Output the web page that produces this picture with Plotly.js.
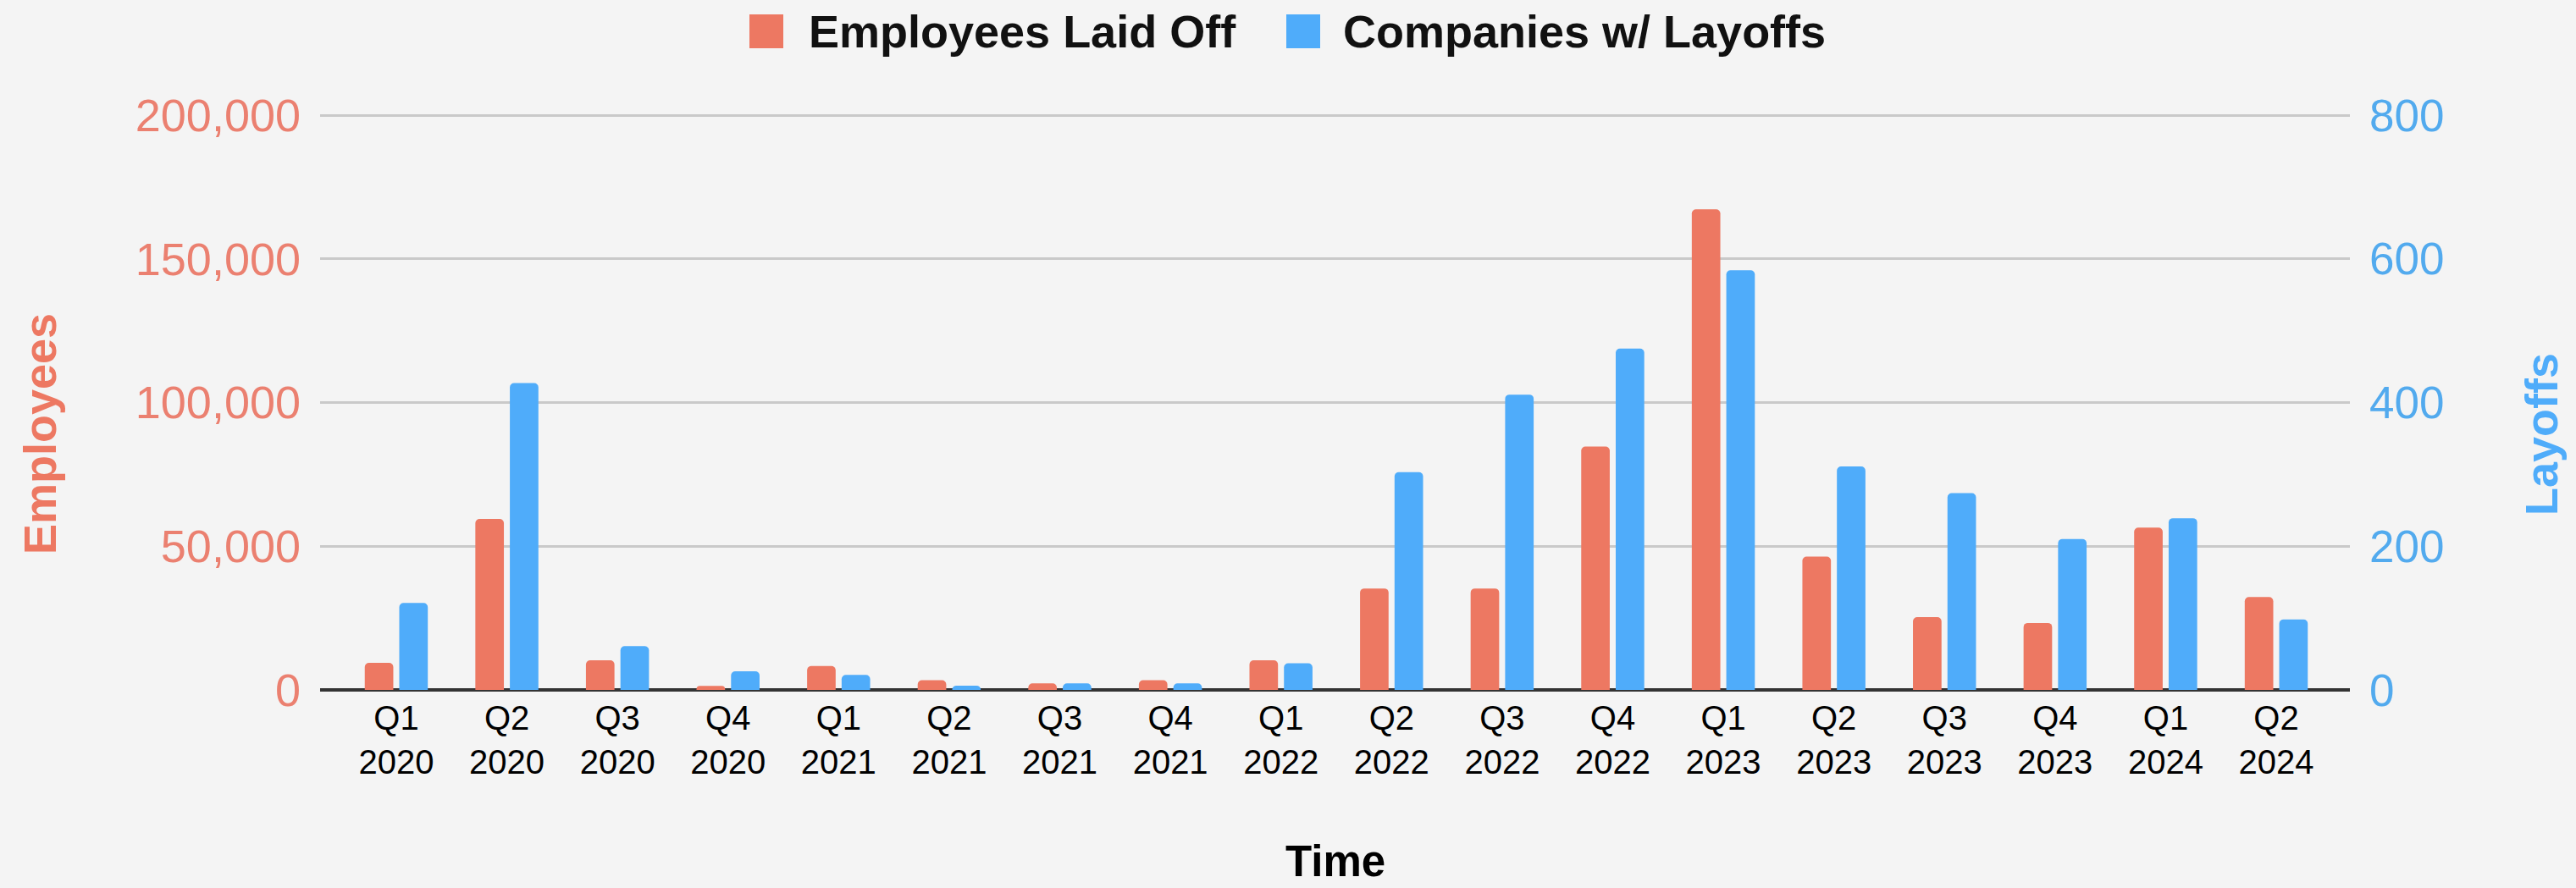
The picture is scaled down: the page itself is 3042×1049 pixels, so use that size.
<!DOCTYPE html>
<html>
<head>
<meta charset="utf-8">
<script src="https://cdn.plot.ly/plotly-3.0.1.min.js"></script>
<style>
  html, body { margin: 0; padding: 0; background: #f4f4f4; }
  #chart { width: 3042px; height: 1049px; }
</style>
</head>
<body>
<div id="chart"></div>
<script>
// ---- Data ----
const quarters = ["Q1 2020","Q2 2020","Q3 2020","Q4 2020","Q1 2021","Q2 2021","Q3 2021","Q4 2021","Q1 2022","Q2 2022","Q3 2022","Q4 2022","Q1 2023","Q2 2023","Q3 2023","Q4 2023","Q1 2024","Q2 2024"];
const employeesLaidOff = [9400, 59500, 10300, 1400, 8300, 3400, 2300, 3400, 10300, 35300, 35300, 84700, 167200, 46400, 25300, 23300, 56500, 32300];
const companiesWithLayoffs = [121, 427, 61, 26, 21, 6, 9, 9, 37, 303, 411, 475, 584, 311, 274, 210, 239, 98];
const leftTicks = [0, 50000, 100000, 150000, 200000];
const rightTicks = [0, 200, 400, 600, 800];

// ---- Styles ----
const RED = "#ED7862";
const BLUE = "#4FACFA";
const RED_TXT = "#EB8070";
const BLUE_TXT = "#52AAEE";
const FONT = "Liberation Sans, Arial, Helvetica, sans-serif";

const tickText = quarters.map(q => q.replace(" ", "<br>"));

const traces = [
  {
    type: "bar", name: "Employees Laid Off",
    x: quarters, y: employeesLaidOff, yaxis: "y",
    marker: { color: RED, cornerradius: 5 },
    width: 0.258, offset: -0.285,
    hoverinfo: "x+y", showlegend: false
  },
  {
    type: "bar", name: "Companies w/ Layoffs",
    x: quarters, y: companiesWithLayoffs, yaxis: "y2",
    marker: { color: BLUE, cornerradius: 5 },
    width: 0.258, offset: 0.027,
    hoverinfo: "x+y", showlegend: false
  }
];

// plot area in pixels (reference): x 378..2775, y (200k/800 line) 136 .. (0) 815
const L = 378, R = 2775, T = 136, B = 815;
const EXTRA = 4; // small headroom so the top gridline is drawn
const TOP = T - EXTRA;
const px = v => (v - L) / (R - L);
const py = v => (B - v) / (B - TOP);
const leftMax = 200000 * (B - TOP) / (B - T);
const rightMax = 800 * (B - TOP) / (B - T);

const layout = {
  width: 3042, height: 1049,
  margin: { l: L, r: 3042 - R, t: TOP, b: 1049 - B, pad: 0 },
  paper_bgcolor: "#f4f4f4",
  plot_bgcolor: "#f4f4f4",
  font: { family: FONT, size: 40, color: "#000" },
  barmode: "overlay",
  showlegend: false,
  xaxis: {
    type: "category",
    range: [-0.689, 17.666],
    tickmode: "array", tickvals: quarters, ticktext: tickText,
    tickfont: { family: FONT, size: 40, color: "#000" },
    ticks: "", showgrid: false, zeroline: false,
    showline: false, ticklabelstandoff: 6,
    fixedrange: true
  },
  yaxis: {
    range: [0, leftMax],
    tickmode: "array", tickvals: leftTicks,
    tickformat: ",d",
    tickfont: { family: FONT, size: 54, color: RED_TXT },
    showgrid: true, gridcolor: "#c9c9c9", gridwidth: 3,
    zeroline: true, zerolinecolor: "#333333", zerolinewidth: 4,
    ticks: "", ticklabelstandoff: 22, showline: false,
    fixedrange: true
  },
  yaxis2: {
    overlaying: "y", side: "right",
    range: [0, rightMax],
    tickmode: "array", tickvals: rightTicks,
    tickfont: { family: FONT, size: 53, color: BLUE_TXT },
    showgrid: false, zeroline: false, ticks: "", ticklabelstandoff: 22,
    showline: false, fixedrange: true
  },
  shapes: [
    { type: "rect", xref: "paper", yref: "paper",
      x0: px(885), x1: px(925), y0: py(57), y1: py(17),
      fillcolor: RED, line: { width: 0 } },
    { type: "rect", xref: "paper", yref: "paper",
      x0: px(1519), x1: px(1559), y0: py(57), y1: py(17),
      fillcolor: BLUE, line: { width: 0 } }
  ],
  annotations: [
    { text: "<b>Employees Laid Off</b>", xref: "paper", yref: "paper",
      x: px(953), y: py(37), xanchor: "left", yanchor: "middle", showarrow: false,
      font: { family: FONT, size: 54, color: "#111" } },
    { text: "<b>Companies w/ Layoffs</b>", xref: "paper", yref: "paper",
      x: px(1584), y: py(37), xanchor: "left", yanchor: "middle", showarrow: false,
      font: { family: FONT, size: 54, color: "#111" } },
    { text: "<b>Employees</b>", xref: "paper", yref: "paper",
      x: px(47), y: py(513), xanchor: "center", yanchor: "middle", showarrow: false,
      textangle: -90, font: { family: FONT, size: 54, color: RED } },
    { text: "<b>Layoffs</b>", xref: "paper", yref: "paper",
      x: px(3001), y: py(513), xanchor: "center", yanchor: "middle", showarrow: false,
      textangle: -90, font: { family: FONT, size: 54, color: BLUE } },
    { text: "<b>Time</b>", xref: "paper", yref: "paper",
      x: 0.5, y: py(1017), xanchor: "center", yanchor: "middle", showarrow: false,
      font: { family: FONT, size: 51, color: "#000" } }
  ]
};

Plotly.newPlot("chart", traces, layout, { displayModeBar: false, staticPlot: true });
</script>
</body>
</html>
